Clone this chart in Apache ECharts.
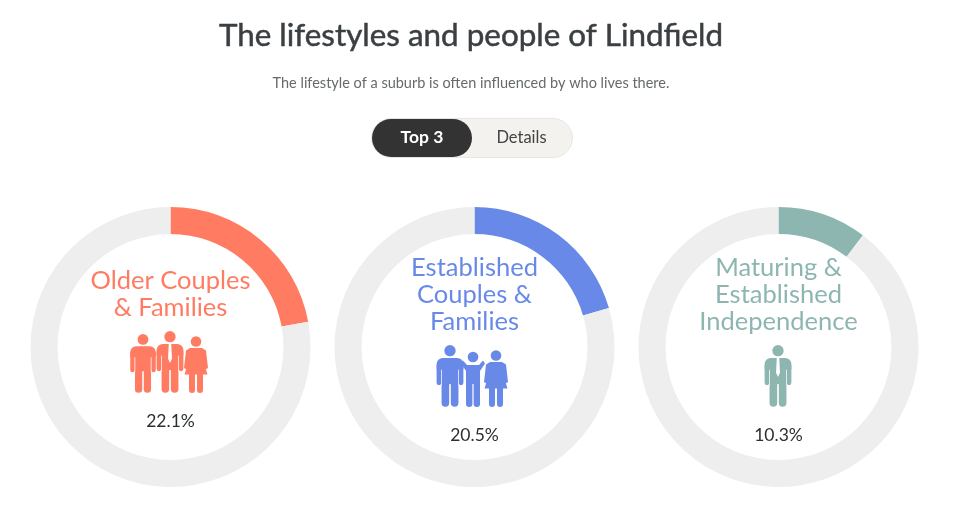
<!DOCTYPE html>
<html>
<head>
<meta charset="utf-8">
<title>The lifestyles and people of Lindfield</title>
<script src="https://cdn.jsdelivr.net/npm/echarts@6/dist/echarts.min.js"></script>
<style>
html, body { margin: 0; padding: 0; background: #fff; }
#chart { width: 956px; height: 510px; }
</style>
</head>
<body>
<div id="chart"></div>
<script>
const titleText = 'The lifestyles and people of Lindfield';
const subtitleText = 'The lifestyle of a suburb is often influenced by who lives there.';
const tabLabels = ['Top 3', 'Details'];
const segmentNames = ['Older Couples\n& Families', 'Established\nCouples &\nFamilies', 'Maturing &\nEstablished\nIndependence'];
const segmentShares = [22.1, 20.5, 10.3];
const segmentColors = ['#ff7b61', '#6889e8', '#8db6b1'];

const fontName = 'Lato, "Noto Sans", sans-serif';
const ringColor = '#eeeeee';
const ringCenters = [170.5, 474.5, 778.5];
const ringY = 347;
const nameY = [294, 294.5, 294.5];
const shareY = [421, 435, 435];

// icon helpers, every figure is drawn around x = 0 with y = 0 at the top of the head
function bar(x, y, w, h, r, fill) {
  return { type: 'rect', shape: { x: x, y: y, width: w, height: h, r: r }, style: { fill: fill } };
}
function poly(points, fill) {
  return { type: 'polygon', shape: { points: points }, style: { fill: fill } };
}
function head(y, r, fill) {
  return { type: 'circle', shape: { cx: 0, cy: y, r: r }, style: { fill: fill } };
}
function manParts(c, hasTie) {
  const parts = [
    head(5.5, 5.5, c),
    bar(-13, 12.5, 26, 11, [6, 6, 0, 0], c),
    bar(-13, 18, 4.6, 21, 2.3, c),
    bar(8.4, 18, 4.6, 21, 2.3, c),
    bar(-8.6, 18, 17.2, 20, 0, c),
    bar(-8.2, 30, 7.4, 30, [0, 0, 3.6, 3.6], c),
    bar(0.8, 30, 7.4, 30, [0, 0, 3.6, 3.6], c),
    bar(-8.6, 24, 0.7, 15, 0, '#fff'),
    bar(7.9, 24, 0.7, 15, 0, '#fff')
  ];
  if (hasTie) parts.push(poly([[-1.2, 12.5], [1.2, 12.5], [1.9, 27], [0, 31], [-1.9, 27]], '#fff'));
  return parts;
}
function womanParts(c) {
  return [
    head(5.5, 5.3, c),
    poly([[-6, 12], [6, 12], [10, 14.5], [12, 32], [9.5, 33.5], [8, 27], [11.5, 38.5], [-11.5, 38.5], [-8, 27], [-9.5, 33.5], [-12, 32], [-10, 14.5]], c),
    bar(-7, 36, 6, 21, [0, 0, 3, 3], c),
    bar(1, 36, 6, 21, [0, 0, 3, 3], c)
  ];
}
function childParts(c) {
  return [
    head(5, 5.3, c),
    poly([[-6, 13], [6, 13], [10, 8.5], [12, 11.5], [7, 19], [-7, 19], [-12, 11.5], [-10, 8.5]], c),
    bar(-7, 18, 14, 14, 0, c),
    bar(-7, 28, 6.4, 27, [0, 0, 3, 3], c),
    bar(0.6, 28, 6.4, 27, [0, 0, 3, 3], c)
  ];
}
function person(parts, x, y, scale) {
  return { type: 'group', x: x, y: y, scaleX: scale, scaleY: scale, children: parts };
}

const icons = [
  person(manParts(segmentColors[0], false), 143, 334, 0.98),
  person(manParts(segmentColors[0], true), 170, 331, 1.03),
  person(womanParts(segmentColors[0]), 196, 336, 1.0),
  person(manParts(segmentColors[1], false), 450, 345, 1.03),
  person(childParts(segmentColors[1]), 473, 352, 1.0),
  person(womanParts(segmentColors[1]), 496, 350, 1.0),
  person(manParts(segmentColors[2], true), 778, 345, 1.03)
];

const chart = echarts.init(document.getElementById('chart'), null, { renderer: 'canvas' });

chart.setOption({
  animation: false,
  series: segmentShares.map((share, i) => ({
    type: 'pie',
    silent: true,
    center: [ringCenters[i], ringY],
    radius: [113, 140],
    startAngle: 90,
    clockwise: true,
    label: { show: false },
    labelLine: { show: false },
    data: [
      { name: segmentNames[i], value: share, itemStyle: { color: segmentColors[i] } },
      { name: 'rest', value: 100 - share, itemStyle: { color: ringColor } }
    ]
  })),
  graphic: [
    { type: 'text', x: 471, y: 36, style: { text: titleText, font: '31.4px ' + fontName, fill: '#3a3f42', stroke: '#3a3f42', lineWidth: 0.5, textAlign: 'center', textVerticalAlign: 'middle' } },
    { type: 'text', x: 471, y: 83, style: { text: subtitleText, font: '14.5px ' + fontName, fill: '#666a6c', textAlign: 'center', textVerticalAlign: 'middle' } },
    { type: 'rect', shape: { x: 371.5, y: 118.5, width: 201, height: 39, r: 19.5 }, style: { fill: '#f4f2ee', stroke: '#e8e6e0', lineWidth: 1 } },
    { type: 'rect', shape: { x: 372, y: 119, width: 100, height: 38, r: 19 }, style: { fill: '#333333' } },
    { type: 'text', x: 422, y: 137.5, style: { text: tabLabels[0], font: 'bold 17.5px ' + fontName, fill: '#ffffff', textAlign: 'center', textVerticalAlign: 'middle' } },
    { type: 'text', x: 521.5, y: 137.5, style: { text: tabLabels[1], font: '16.5px ' + fontName, fill: '#444444', textAlign: 'center', textVerticalAlign: 'middle' } }
  ].concat(segmentNames.map((name, i) => ({
    type: 'text', x: ringCenters[i], y: nameY[i],
    style: { text: name, font: '25.5px ' + fontName, lineHeight: 27, fill: segmentColors[i], textAlign: 'center', textVerticalAlign: 'middle' }
  }))).concat(segmentShares.map((share, i) => ({
    type: 'text', x: ringCenters[i], y: shareY[i],
    style: { text: share.toFixed(1) + '%', font: '17.5px ' + fontName, fill: '#2b2f31', textAlign: 'center', textVerticalAlign: 'middle' }
  }))).concat(icons)
});
</script>
</body>
</html>
